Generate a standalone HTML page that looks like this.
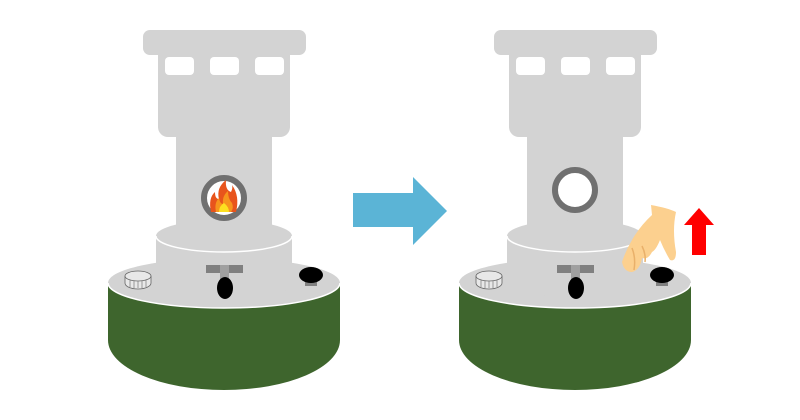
<!DOCTYPE html>
<html><head><meta charset="utf-8"><style>html,body{margin:0;padding:0;background:#fff}svg{display:block}</style></head>
<body>
<svg width="800" height="420" viewBox="0 0 800 420" xmlns="http://www.w3.org/2000/svg">
<defs>
<g id="stove">
  <!-- base -->
  <path d="M108 283 L340 283 L340 340 A116 50 0 0 1 108 340 Z" fill="#3e652d"/>
  <ellipse cx="224" cy="283" rx="116" ry="25" fill="#d3d3d3"/>
  <path d="M108 283 A116 25 0 0 0 340 283" fill="none" stroke="#fff" stroke-width="1.5"/>
  <!-- top -->
  <rect x="143" y="30" width="163" height="25" rx="7" fill="#d3d3d3"/>
  <rect x="158" y="45" width="132" height="92" rx="10" fill="#d3d3d3"/>
  <rect x="165" y="57" width="29" height="18" rx="4" fill="#fff"/>
  <rect x="210" y="57" width="29" height="18" rx="4" fill="#fff"/>
  <rect x="255" y="57" width="29" height="18" rx="4" fill="#fff"/>
  <rect x="176" y="125" width="96" height="120" fill="#d3d3d3"/>
  <!-- mid cylinder -->
  <path d="M156 236 L292 236 L292 285 A68 12 0 0 1 156 285 Z" fill="#d3d3d3"/>
  <ellipse cx="224" cy="236" rx="68" ry="16" fill="#d3d3d3"/>
  <path d="M156 236 A68 16 0 0 0 292 236" fill="none" stroke="#fff" stroke-width="1.5"/>
  <!-- handle -->
  <rect x="206" y="265" width="37" height="8" fill="#808080"/>
  <rect x="220" y="265" width="9" height="15" fill="#a0a0a0"/>
  <ellipse cx="225" cy="288" rx="8" ry="11" fill="#000"/>
  <!-- knob -->
  <rect x="305" y="280" width="12" height="6" fill="#808080"/>
  <ellipse cx="311" cy="275" rx="12" ry="8" fill="#000"/>
  <!-- dial -->
  <path d="M125 276 L125 283 A13 6 0 0 0 151 283 L151 276" fill="#e8e8e8" stroke="#666" stroke-width="0.8"/>
  <ellipse cx="138" cy="276" rx="13" ry="5" fill="#e8e8e8" stroke="#666" stroke-width="0.8"/>
  <path d="M130 280v7M134 281v7M138 281v7M142 281v7M146 280v7" stroke="#777" stroke-width="0.7"/>
</g>
</defs>
<use href="#stove"/>
<use href="#stove" transform="translate(351,0)"/>
<!-- left window with flame -->
<circle cx="224" cy="198" r="20" fill="#fff" stroke="#707070" stroke-width="6"/>
<path d="M211 212 Q208 198 215 192 Q215 199 219 199 Q216 188 226 180 Q225 190 231 192 Q233 188 232 185 Q240 196 236 212 Z" fill="#e8541c"/>
<path d="M216 212 Q214 203 219 198 Q220 204 223 204 Q222 196 228 191 Q228 199 232 203 Q234 208 231 212 Z" fill="#f7941d"/>
<path d="M219 212 Q219 206 224 203 Q229 207 229 212 Z" fill="#fde020"/>
<!-- right window -->
<circle cx="575" cy="190" r="20" fill="#fff" stroke="#707070" stroke-width="6"/>
<!-- blue arrow -->
<path d="M353 193 L413 193 L413 177 L447 211 L413 245 L413 227 L353 227 Z" fill="#5bb4d6"/>
<!-- red arrow -->
<path d="M699 208 L714 225 L706 225 L706 255 L692 255 L692 225 L684 225 Z" fill="#f00"/>
<!-- hand -->
<path d="M651 205 Q668 208 676 212 Q672 230 676 252 Q676 262 670 260 Q664 250 660 240 Q656 250 652 252 Q648 260 642 258 Q640 270 632 272 Q624 272 622 262 Q626 250 632 240 Q640 226 652 215 Z" fill="#fcd08f"/>
<path d="M632 248 Q636 258 634 270 M642 246 Q646 254 645 262" stroke="#e9b06a" stroke-width="1.5" fill="none"/>
</svg>
</body></html>
